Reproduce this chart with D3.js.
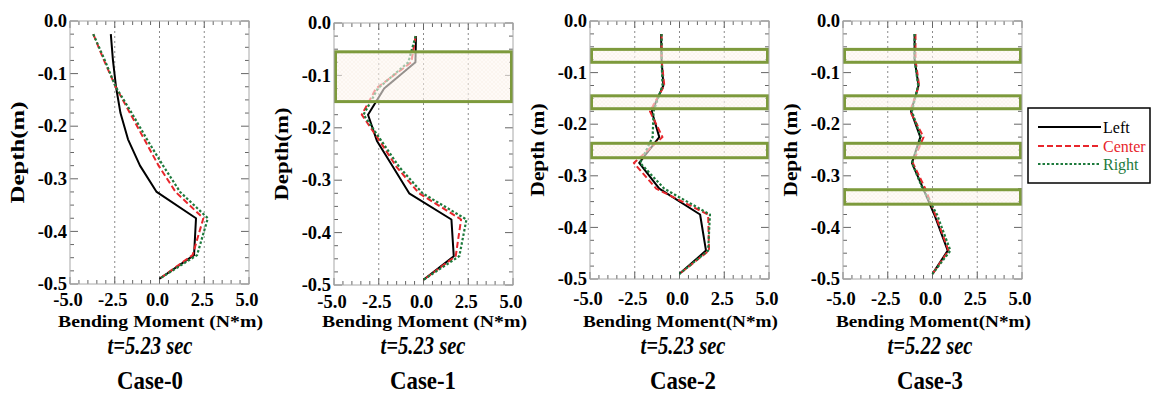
<!DOCTYPE html>
<html><head><meta charset="utf-8">
<script src="https://cdn.jsdelivr.net/npm/d3@7"></script>
<style>body{margin:0;background:#fff} svg{display:block}</style>
</head><body><svg id="chart" width="1152" height="403"></svg>
<script>
// Bending moment profiles along the pile, three gauge lines per case
const depths = [-0.025, -0.075, -0.125, -0.175, -0.225, -0.275, -0.325, -0.375, -0.445, -0.49];
const caseNames = ["Case-0", "Case-1", "Case-2", "Case-3"];
const timeLabels = ["t=5.23 sec", "t=5.23 sec", "t=5.23 sec", "t=5.22 sec"];
const seriesNames = ["Left", "Center", "Right"];

const leftMoment = [
  [-2.72, -2.6, -2.43, -2.18, -1.76, -1.09, -0.16, 2.04, 1.93, 0],
  [-0.42, -0.45, -2.2, -3.1, -2.6, -1.7, -0.8, 1.56, 1.69, 0],
  [-1.03, -1.0, -0.9, -1.55, -1.13, -2.25, -1.13, 1.15, 1.48, 0],
  [-1.0, -1.0, -0.78, -1.2, -0.68, -1.15, -0.52, 0.1, 0.85, 0]
];
const centerMoment = [
  [-3.7, -3.1, -2.45, -1.65, -0.85, -0.05, 0.9, 2.45, 1.85, 0],
  [-0.44, -0.68, -2.65, -3.45, -2.45, -1.5, -0.25, 2.1, 1.8, 0],
  [-1.0, -1.0, -0.85, -1.65, -0.95, -2.55, -1.3, 1.6, 1.65, 0],
  [-0.95, -0.95, -0.75, -1.25, -0.5, -1.1, -0.4, 0.15, 0.9, 0]
];
const rightMoment = [
  [-3.7, -3.05, -2.45, -1.55, -0.7, 0.2, 1.15, 2.7, 2.1, 0],
  [-0.44, -0.85, -2.55, -3.35, -2.35, -1.35, -0.05, 2.4, 2.0, 0],
  [-1.0, -1.0, -0.95, -1.45, -1.5, -2.2, -0.85, 1.7, 1.6, 0],
  [-1.0, -1.0, -0.8, -1.15, -0.65, -1.15, -0.55, 0.25, 1.0, 0]
];
// depth ranges of the reinforced layers in each case
const layerBands = [
  [],
  [[-0.055, -0.15]],
  [[-0.055, -0.08], [-0.145, -0.17], [-0.237, -0.265]],
  [[-0.055, -0.08], [-0.145, -0.17], [-0.237, -0.265], [-0.327, -0.355]]
];
const xTicks = [-5, -2.5, 0, 2.5, 5];
const yTicks = [0, -0.1, -0.2, -0.3, -0.4, -0.5];
const xTitles = ["Bending Moment (N*m)", "Bending Moment (N*m)", "Bending Moment(N*m)", "Bending Moment(N*m)"];
const yTitles = ["Depth(m)", "Depth(m)", "Depth (m)", "Depth (m)"];

// panel geometry
const panelLeft = [70, 334, 590, 843];
const panelTop = [21, 23, 21, 21];
const panelBottom = [284, 285, 279, 279];
const panelWidth = 179;
const xLabelY = [306, 308, 305, 305];
const captionX = [150, 423, 683, 930];

const serif = "'Liberation Serif', 'Times New Roman', serif";
const fmt = d => d.toFixed(1);   // plain hyphen for negatives
const styles = [
  {color: "#000000", dash: null, width: 2},
  {color: "#e8262c", dash: "6,3", width: 2},
  {color: "#1d7a3c", dash: "2.5,2", width: 2.2}
];
const allSeries = [leftMoment, centerMoment, rightMoment];

const svg = d3.select("#chart");
const defs = svg.append("defs");
const pat = defs.append("pattern").attr("id", "sand")
  .attr("patternUnits", "userSpaceOnUse").attr("width", 4).attr("height", 4);
pat.append("rect").attr("width", 4).attr("height", 4).attr("fill", "#fdf7f2");
pat.append("path").attr("d", "M0,0L4,4M4,0L0,4").attr("stroke", "#f3e4d8").attr("stroke-width", 0.5);

caseNames.forEach((name, i) => {
  const x = d3.scaleLinear().domain([-5, 5]).range([panelLeft[i], panelLeft[i] + panelWidth]);
  const y = d3.scaleLinear().domain([0, -0.5]).range([panelTop[i], panelBottom[i]]);
  const g = svg.append("g");
  const [x0, x1] = x.range(), [y0, y1] = y.range();

  // dotted reference lines
  g.selectAll(".grid").data([-2.5, 0, 2.5]).join("line")
    .attr("x1", d => x(d)).attr("x2", d => x(d)).attr("y1", y0).attr("y2", y1)
    .attr("stroke", "#8a8a8a").attr("stroke-width", 1).attr("stroke-dasharray", "2,3");

  // inward ticks on all four sides
  const xMinor = d3.range(-5, 5.001, 0.5);
  const yMinor = d3.range(0, -0.5001, -0.025);
  const tk = g.append("g").attr("stroke", "#666").attr("stroke-width", 1);
  xMinor.forEach(v => {
    const len = Math.abs(v / 2.5 - Math.round(v / 2.5)) < 1e-6 ? 7 : 4;
    tk.append("line").attr("x1", x(v)).attr("x2", x(v)).attr("y1", y0).attr("y2", y0 + len);
    tk.append("line").attr("x1", x(v)).attr("x2", x(v)).attr("y1", y1).attr("y2", y1 - len);
  });
  yMinor.forEach(v => {
    const len = Math.abs(v / 0.1 - Math.round(v / 0.1)) < 1e-6 ? 8 : 4;
    tk.append("line").attr("y1", y(v)).attr("y2", y(v)).attr("x1", x0).attr("x2", x0 + len);
    tk.append("line").attr("y1", y(v)).attr("y2", y(v)).attr("x1", x1).attr("x2", x1 - len);
  });

  // profiles
  const line = d3.line().x(d => x(d[0])).y(d => y(d[1]));
  allSeries.forEach((series, s) => {
    const pts = series[i].map((v, k) => [v, depths[k]]);
    g.append("path").attr("d", line(pts)).attr("fill", "none")
      .attr("stroke", styles[s].color).attr("stroke-width", styles[s].width)
      .attr("stroke-dasharray", styles[s].dash)
      .attr("stroke-linejoin", "round");
  });

  // reinforced layers
  layerBands[i].forEach(b => {
    g.append("rect").attr("x", x0 + 1.5).attr("width", panelWidth - 3)
      .attr("y", y(b[0])).attr("height", y(b[1]) - y(b[0]))
      .attr("fill", "url(#sand)").attr("fill-opacity", 0.6)
      .attr("stroke", "#7d9a3c").attr("stroke-width", 3);
  });

  // frame
  g.append("rect").attr("x", x0).attr("y", y0).attr("width", x1 - x0).attr("height", y1 - y0)
    .attr("fill", "none").attr("stroke", "#a8a8a8").attr("stroke-width", 1);

  // tick labels
  g.selectAll(".yl").data(yTicks).join("text")
    .attr("x", x0 - 3).attr("y", d => y(d)).attr("dy", "0.34em")
    .attr("text-anchor", "end").attr("font-family", serif).attr("font-weight", "bold")
    .attr("font-size", 18.5).text(fmt);
  g.selectAll(".xl").data(xTicks).join("text")
    .attr("x", d => x(d) - 2).attr("y", xLabelY[i])
    .attr("text-anchor", "middle").attr("font-family", serif).attr("font-weight", "bold")
    .attr("font-size", 18.5).text(fmt);

  // axis titles
  g.append("text").attr("x", (x0 + x1) / 2 + 1).attr("y", 327)
    .attr("text-anchor", "middle").attr("font-family", serif).attr("font-weight", "bold")
    .attr("font-size", 17).attr("textLength", i < 2 ? 205 : 195).attr("lengthAdjust", "spacingAndGlyphs")
    .text(xTitles[i]);
  g.append("text").attr("transform", `translate(${x0 - 46},${(y0 + y1) / 2}) rotate(-90)`)
    .attr("text-anchor", "middle").attr("font-family", serif).attr("font-weight", "bold")
    .attr("font-size", 18).attr("textLength", i === 0 ? 102 : 93).attr("lengthAdjust", "spacingAndGlyphs")
    .text(yTitles[i]);

  // captions
  g.append("text").attr("x", captionX[i]).attr("y", 354)
    .attr("text-anchor", "middle").attr("font-family", serif).attr("font-weight", "bold")
    .attr("font-style", "italic").attr("font-size", 25)
    .attr("textLength", 85).attr("lengthAdjust", "spacingAndGlyphs").text(timeLabels[i]);
  g.append("text").attr("x", captionX[i]).attr("y", 389)
    .attr("text-anchor", "middle").attr("font-family", serif).attr("font-weight", "bold")
    .attr("font-size", 25)
    .attr("textLength", 66).attr("lengthAdjust", "spacingAndGlyphs").text(name);
});

// legend
const lg = svg.append("g");
lg.append("rect").attr("x", 1028).attr("y", 108).attr("width", 122).attr("height", 75)
  .attr("fill", "#fff").attr("stroke", "#000").attr("stroke-width", 1.5);
const legendY = [127, 146, 164];
const legendText = ["#000000", "#e8262c", "#1d7a3c"];
seriesNames.forEach((n, s) => {
  lg.append("line").attr("x1", 1038).attr("x2", 1101).attr("y1", legendY[s]).attr("y2", legendY[s])
    .attr("stroke", styles[s].color).attr("stroke-width", styles[s].width)
    .attr("stroke-dasharray", styles[s].dash);
  lg.append("text").attr("x", 1103).attr("y", legendY[s]).attr("dy", "0.35em")
    .attr("font-family", serif).attr("font-size", 16).attr("fill", legendText[s]).text(n);
});
</script>
</body></html>
